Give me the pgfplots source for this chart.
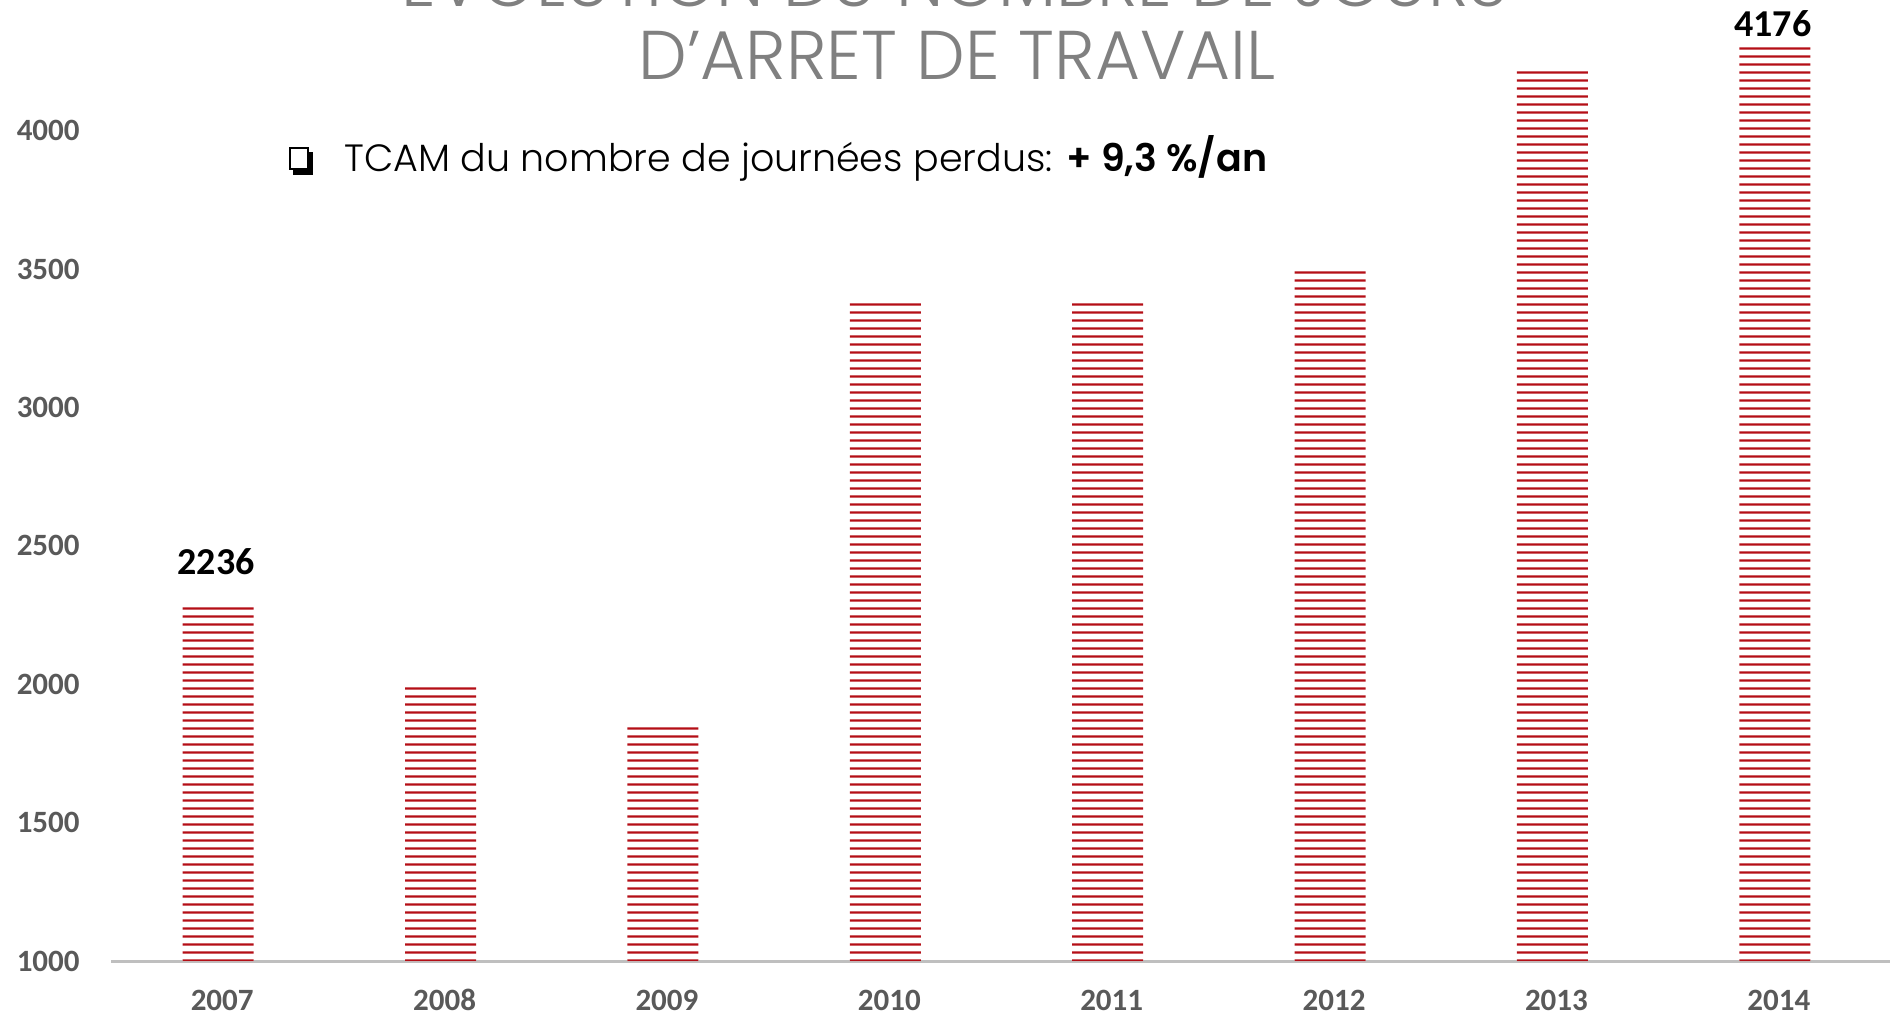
\documentclass[border=0pt]{standalone}
\usepackage{fontspec}
\usepackage{pgfplots}
\pgfplotsset{compat=1.18}
\usetikzlibrary{patterns}
\setmainfont{Carlito}
\newfontfamily\gothic{Poppins}[UprightFont=* Light, BoldFont=* SemiBold]
\definecolor{barred}{RGB}{180,14,22}
\definecolor{axisgray}{RGB}{191,191,191}
\definecolor{labelgray}{RGB}{89,89,89}
\definecolor{titlegray}{RGB}{128,128,128}
\pgfdeclarepatternformonly{hlinesbig}{\pgfpoint{0pt}{0pt}}{\pgfpoint{120pt}{4pt}}{\pgfpoint{120pt}{4pt}}{%
  \pgfpathrectangle{\pgfpoint{-0.5pt}{1.4pt}}{\pgfpoint{121pt}{1.2pt}}%
  \pgfusepath{fill}%
}
\begin{document}
\begin{tikzpicture}
\begin{axis}[
  at={(55.5pt,29pt)}, anchor=south west,
  scale only axis, width=889.5pt, height=480.5pt,
  xmin=-0.5, xmax=7.5, ymin=1000, ymax=4472,
  ybar, bar width=35.5pt, bar shift=-2pt,
  xtick={0,...,7}, xticklabels={2007,2008,2009,2010,2011,2012,2013,2014},
  ytick={1000,1500,2000,2500,3000,3500,4000},
  axis x line*=bottom, axis y line*=left,
  y axis line style={draw=none},
  x axis line style={draw=axisgray, line width=1.5pt},
  major tick length=0pt,
  tick style={draw=none},
  ticklabel style={font=\bfseries\fontsize{15.5}{18}\selectfont, text=labelgray},
  /pgf/number format/1000 sep={},
  /pgf/number format/assume math mode=true,
  yticklabel style={anchor=east, inner sep=0pt, xshift=-15.5pt},
  xticklabel style={anchor=center, inner sep=0pt, yshift=-19.5pt},
]
\addplot[draw=none, fill=white,
  postaction={pattern=hlinesbig, pattern color=barred}]
  coordinates {(0,2289) (1,1993) (2,1853) (3,3390) (4,3390) (5,3504) (6,4218) (7,4309)};
\node[font=\bfseries\fontsize{19}{22}\selectfont, text=black, xshift=-3pt] at (axis cs:0,2441) {2236};
\node[font=\bfseries\fontsize{19}{22}\selectfont, text=black, xshift=-3pt] at (axis cs:7,4385) {4176};
\end{axis}
% title
\node[anchor=base, text=titlegray, font=\gothic\fontsize{34.5}{40}\selectfont] at (477.5pt,506pt) {ÉVOLUTION DU NOMBRE DE JOURS};
\node[anchor=base, text=titlegray, font=\gothic\fontsize{34.5}{40}\selectfont] at (478.5pt,469.5pt) {D’ARRET DE TRAVAIL};
% bullet box
\fill[black] (146.5pt,422pt) rectangle (156.5pt,424.5pt);
\fill[black] (154pt,422pt) rectangle (156.5pt,433.5pt);
\draw[black, line width=0.9pt, fill=white] (144.95pt,424.95pt) rectangle (154pt,435.5pt);
\node[anchor=base west, inner sep=0pt, font=\gothic\fontsize{19}{23}\selectfont] at (172pt,423.5pt) {TCAM du nombre de journées perdus: \textbf{+ 9,3 \%/an}};
\pgfresetboundingbox
\useasboundingbox (0,0) rectangle (945pt,509.5pt);
\end{tikzpicture}
\end{document}
